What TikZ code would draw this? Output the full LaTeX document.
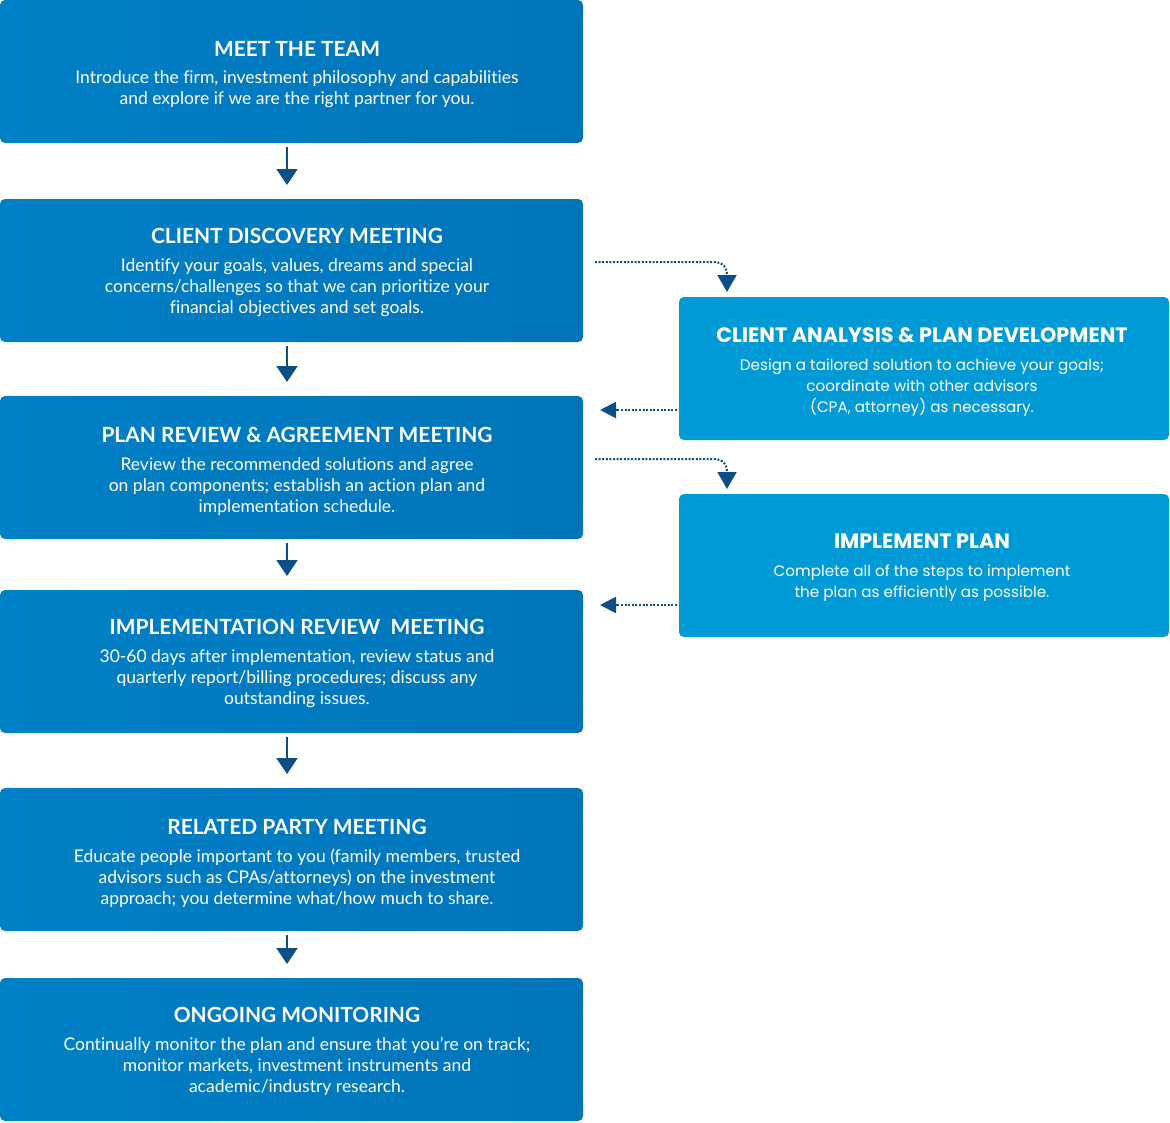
\documentclass[tikz,border=0pt]{standalone}
\usepackage{fontspec}
\usetikzlibrary{arrows.meta,calc}
\newfontfamily\lfont[Ligatures=NoCommon]{Lato}
\newfontfamily\rfont{Poppins}
\definecolor{lblueA}{HTML}{0080C6}
\definecolor{lblueB}{HTML}{0074B9}
\definecolor{rblue}{HTML}{009AD7}
\definecolor{arr}{HTML}{0B4F86}
\begin{document}
\begin{tikzpicture}[x=1pt,y=-1pt,
  lbox/.style={anchor=north west, inner sep=0pt, outer sep=0pt, rounded corners=5pt,
    minimum width=583pt, minimum height=143pt, left color=lblueA, right color=lblueB},
  rbox/.style={anchor=north west, inner sep=0pt, outer sep=0pt, rounded corners=5pt,
    minimum width=490pt, minimum height=143pt, fill=rblue},
  ltitle/.style={text=white, inner sep=0pt, anchor=center, text depth=0pt,
    font=\lfont\bfseries\fontsize{20.9}{23}\selectfont},
  lbody/.style={text=white, inner sep=0pt, anchor=north, align=center,
    font=\lfont\fontsize{17.5}{21}\selectfont},
  rtitle/.style={text=white, inner sep=0pt, anchor=center, text depth=0pt,
    font=\rfont\bfseries\fontsize{20.8}{23}\selectfont},
  rbody/.style={text=white, inner sep=0pt, anchor=north, align=center,
    font=\rfont\fontsize{15.2}{21}\selectfont},
  varrow/.style={draw=arr, line width=1.5pt, shorten <=4pt, shorten >=14pt,
    -{Triangle[width=21pt,length=16pt]}},
  dotdown/.style={draw=arr, line width=2pt, dash pattern=on 2pt off 1.6pt,
    -{Triangle[width=19pt,length=17pt]}},
  dotback/.style={draw=arr, line width=2pt, dash pattern=on 2pt off 1.6pt,
    shorten <=2pt, shorten >=17pt, -{Triangle[width=16pt,length=16pt]}}
]
\useasboundingbox (0,0) rectangle (1170,1122);

% left column boxes
\node[lbox] (b1) at (0,0) {};
\node[lbox] (b2) at (0,199) {};
\node[lbox] (b3) at (0,396) {};
\node[lbox] (b4) at (0,590) {};
\node[lbox] (b5) at (0,788) {};
\node[lbox] (b6) at (0,978) {};
% right column boxes
\node[rbox] (ra) at (679,297) {};
\node[rbox] (rb) at (679,494) {};

% texts
\node[ltitle] (t1) at (297,49) {MEET THE TEAM};
\node[lbody] (d1) at (297,70) {Introduce the firm, investment philosophy and capabilities\\and explore if we are the right partner for you.};

\node[ltitle] (t2) at (297,236) {CLIENT DISCOVERY MEETING};
\node[lbody] (d2) at (297,258) {Identify your goals, values, dreams and special\\concerns/challenges so that we can prioritize your\\financial objectives and set goals.};

\node[ltitle] (t3) at (297,435) {PLAN REVIEW \& AGREEMENT MEETING};
\node[lbody] (d3) at (297,457) {Review the recommended solutions and agree\\on plan components; establish an action plan and\\implementation schedule.};

\node[ltitle] (t4) at (297,627) {IMPLEMENTATION REVIEW\ \ MEETING};
\node[lbody] (d4) at (297,649) {30-60 days after implementation, review status and\\quarterly report/billing procedures; discuss any\\outstanding issues.};

\node[ltitle] (t5) at (297,827) {RELATED PARTY MEETING};
\node[lbody] (d5) at (297,849) {Educate people important to you (family members, trusted\\advisors such as CPAs/attorneys) on the investment\\approach; you determine what/how much to share.};

\node[ltitle] (t6) at (297,1015) {ONGOING MONITORING};
\node[lbody] (d6) at (297,1037) {Continually monitor the plan and ensure that you’re on track;\\monitor markets, investment instruments and\\academic/industry research.};

\node[rtitle] (ta) at (922,335) {CLIENT ANALYSIS \& PLAN DEVELOPMENT};
\node[rbody] (da) at (922,359) {Design a tailored solution to achieve your goals;\\coordinate with other advisors\\(CPA, attorney) as necessary.};

\node[rtitle] (tb) at (922,541) {IMPLEMENT PLAN};
\node[rbody] (db) at (922,565) {Complete all of the steps to implement\\the plan as efficiently as possible.};

% vertical arrows
\draw[varrow] ([xshift=-4.5pt]b1.south) -- ([xshift=-4.5pt]b2.north);
\draw[varrow] ([xshift=-4.5pt]b2.south) -- ([xshift=-4.5pt]b3.north);
\draw[varrow] ([xshift=-4.5pt]b3.south) -- ([xshift=-4.5pt]b4.north);
\draw[varrow] ([xshift=-4.5pt]b4.south) -- ([xshift=-4.5pt]b5.north);
\draw[varrow] ([xshift=-4.5pt]b5.south) -- ([xshift=-4.5pt]b6.north);

% dotted connectors
\coordinate (k1) at (713,262);
\coordinate (e1) at (727,292);
\coordinate (k2) at (713,459);
\coordinate (e2) at (727,489);
\coordinate (y1) at (0,410);
\coordinate (y2) at (0,605);
\coordinate (s1) at (595,262);
\coordinate (s2) at (595,459);

\draw[dotdown] (b2.east |- s1) ++(12,0) -- (k1) .. controls (724,262) and (727,268) .. (e1);
\draw[dotback] (ra.west |- y1) -- (b3.east |- y1);
\draw[dotdown] (b3.east |- s2) ++(12,0) -- (k2) .. controls (724,459) and (727,465) .. (e2);
\draw[dotback] (rb.west |- y2) -- (b4.east |- y2);
\end{tikzpicture}
\end{document}
